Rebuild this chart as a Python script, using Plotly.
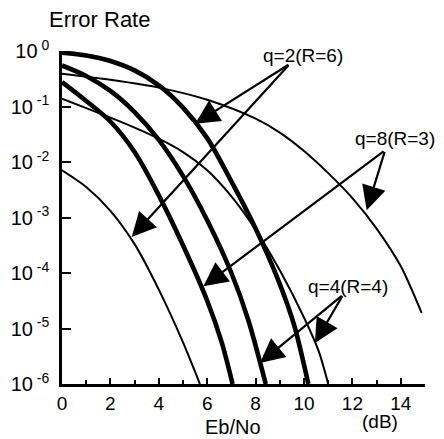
import plotly.graph_objects as go

# ---- data ----
# thin curves
q2_thin_x = [0, 1, 2, 3, 4, 5, 5.7]
q2_thin_y = [7.08e-3, 3.55e-3, 1.32e-3, 3.31e-4, 5.01e-5, 5.62e-6, 1e-6]

q4_thin_x = [0, 1, 2, 3, 4, 5, 6, 7, 8, 9, 10, 10.6, 11.0]
q4_thin_y = [0.138, 0.0933, 0.0631, 0.0417, 0.0263, 0.0151, 7.08e-3, 2.4e-3,
             6.03e-4, 1.12e-4, 1.58e-5, 3.98e-6, 1e-6]

q8_thin_x = [0, 2, 4, 6, 8, 9, 10, 11, 12, 13, 14, 14.86]
q8_thin_y = [0.389, 0.302, 0.219, 0.132, 0.0603, 0.0339, 0.0158, 6.31e-3,
             2.24e-3, 6.31e-4, 1.32e-4, 1.91e-5]

# thick curves
q2_thick_x = [0, 1, 2, 3, 4, 5, 6, 7, 8, 9, 9.6, 10.18]
q2_thick_y = [0.933, 0.832, 0.661, 0.447, 0.240, 0.0955, 0.0269, 4.47e-3,
              6.31e-4, 6.31e-5, 1.12e-5, 1e-6]

q4_thick_x = [0, 1, 2, 3, 4, 5, 6, 7, 7.7, 8.42]
q4_thick_y = [0.55, 0.355, 0.191, 0.0794, 0.0251, 5.62e-3, 8.91e-4, 1e-4, 1.41e-5, 1e-6]

q8_thick_x = [0, 1, 2, 3, 4, 5, 6, 6.6, 7.05]
q8_thick_y = [0.275, 0.126, 0.0537, 0.0151, 2.51e-3, 3.16e-4, 3.16e-5, 5.62e-6, 1e-6]

x_ticks = [0, 2, 4, 6, 8, 10, 12, 14]
y_tickvals = [1, 1e-1, 1e-2, 1e-3, 1e-4, 1e-5, 1e-6]
y_ticktext = ["10<sup> 0</sup>", "10<sup> -1</sup>", "10<sup> -2</sup>", "10<sup> -3</sup>",
              "10<sup> -4</sup>", "10<sup> -5</sup>", "10<sup> -6</sup>"]

labels = ["q=2(R=6)", "q=8(R=3)", "q=4(R=4)"]
label_pos = [(9.96, -0.08), (13.76, -1.58), (11.83, -4.25)]
arrow_tails = [(9.42, -0.23), (13.35, -1.79), (11.62, -4.39)]
arrow_tips = [[(5.5, -1.31), (2.88, -3.35)],
              [(12.59, -2.87), (5.84, -4.24)],
              [(8.18, -5.62), (10.45, -5.26)]]

FONT = "Liberation Sans, Arial, Helvetica, sans-serif"

fig = go.Figure()
curves = [
    (q2_thin_x, q2_thin_y, 2), (q4_thin_x, q4_thin_y, 2), (q8_thin_x, q8_thin_y, 2),
    (q2_thick_x, q2_thick_y, 4.6), (q4_thick_x, q4_thick_y, 4.6), (q8_thick_x, q8_thick_y, 4.6),
]
for xs, ys, w in curves:
    fig.add_trace(go.Scatter(x=xs, y=ys, mode="lines",
                             line=dict(color="black", width=w, shape="spline", smoothing=0.8),
                             showlegend=False, hoverinfo="skip"))

annotations = []
for text, (lx, ly) in zip(labels, label_pos):
    annotations.append(dict(x=lx, y=ly, xref="x", yref="y", text=text, showarrow=False,
                            font=dict(family=FONT, size=19, color="black")))
for (tx, ty), tips in zip(arrow_tails, arrow_tips):
    for (hx, hy) in tips:
        annotations.append(dict(x=hx, y=hy, xref="x", yref="y", ax=tx, ay=ty,
                                axref="x", ayref="y", text="", showarrow=True,
                                arrowhead=2, arrowsize=2.2, arrowwidth=2.2,
                                arrowcolor="black", standoff=0, startstandoff=0))
annotations.append(dict(x=-0.041, y=1.096, xref="paper", yref="paper", text="Error Rate",
                        showarrow=False, xanchor="left", yanchor="middle",
                        font=dict(family=FONT, size=22, color="black")))
annotations.append(dict(x=0.47, y=-0.168, xref="paper", yref="paper", text="Eb/No",
                        showarrow=False, xanchor="center", yanchor="bottom",
                        font=dict(family=FONT, size=20, color="black")))
annotations.append(dict(x=0.875, y=-0.114, xref="paper", yref="paper", text="(dB)",
                        showarrow=False, xanchor="center", yanchor="middle",
                        font=dict(family=FONT, size=19, color="black")))

# the page body adds an 8px offset, so the figure is 8px smaller and margins shifted
fig.update_layout(
    width=436, height=431,
    margin=dict(l=54, r=19, t=43, b=55),
    paper_bgcolor="white", plot_bgcolor="white",
    annotations=annotations,
    font=dict(family=FONT, color="black"),
)
fig.update_xaxes(range=[0, 15], showgrid=False, zeroline=False, automargin=False,
                 showline=True, linewidth=2.5, linecolor="black",
                 tickvals=x_ticks, ticks="inside", ticklen=6, tickwidth=2, tickcolor="black",
                 minor=dict(ticks="inside", ticklen=4, tickwidth=1.5, dtick=1, tickcolor="black"),
                 tickfont=dict(family=FONT, size=19, color="black"))
fig.update_yaxes(type="log", range=[-6, 0], showgrid=False, zeroline=False, automargin=False,
                 showline=True, linewidth=2.5, linecolor="black",
                 tickvals=y_tickvals, ticktext=y_ticktext, ticklabelstandoff=6,
                 ticks="inside", ticklen=9, tickwidth=2, tickcolor="black",
                 tickfont=dict(family=FONT, size=20, color="black"))

fig.write_html("out.html")
